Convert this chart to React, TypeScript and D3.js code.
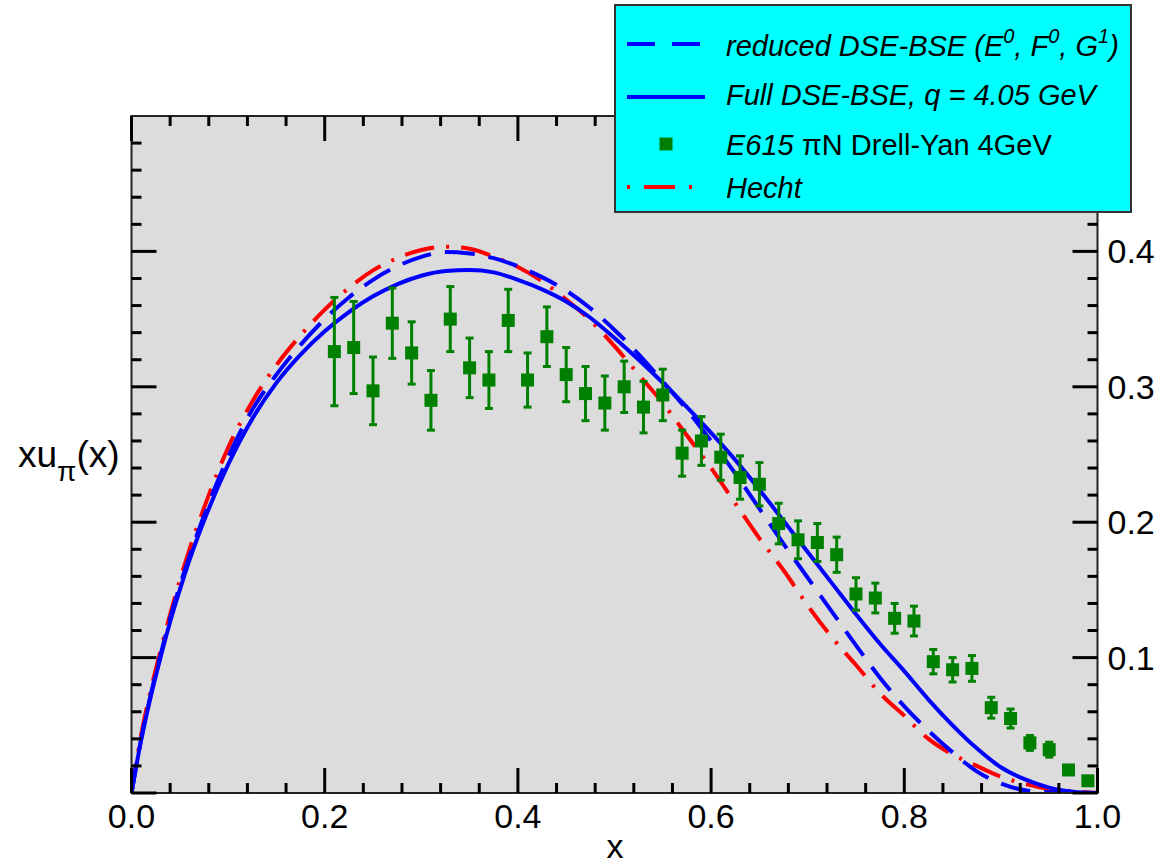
import React from "react";
import * as d3 from "d3";

// Pion valence distribution x·u_π(x): model curves and E615 Drell-Yan data

const curveX = [
  0, 0.01, 0.02, 0.03, 0.04, 0.05, 0.06, 0.08, 0.1, 0.125, 0.15, 0.175, 0.2,
  0.225, 0.25, 0.275, 0.3, 0.325, 0.35, 0.375, 0.4, 0.425, 0.45, 0.475, 0.5,
  0.525, 0.55, 0.575, 0.6, 0.625, 0.65, 0.675, 0.7, 0.725, 0.75, 0.775, 0.8,
  0.825, 0.85, 0.875, 0.9, 0.925, 0.95, 0.975, 1.0,
];

const fullDseBse = [
  0, 0.039, 0.0715, 0.1, 0.1265, 0.15, 0.172, 0.21, 0.2425, 0.2763, 0.3029,
  0.3238, 0.341, 0.3552, 0.3668, 0.3757, 0.382, 0.3855, 0.3863, 0.3845, 0.379,
  0.372, 0.363, 0.351, 0.336, 0.32, 0.303, 0.285, 0.266, 0.246, 0.224, 0.201,
  0.178, 0.155, 0.132, 0.11, 0.09, 0.069, 0.05, 0.033, 0.019, 0.01, 0.004,
  0.001, 0,
];

const reducedDseBse = [
  0, 0.04, 0.073, 0.102, 0.129, 0.153, 0.175, 0.214, 0.248, 0.283, 0.309,
  0.331, 0.35, 0.366, 0.379, 0.389, 0.396, 0.3995, 0.3985, 0.395, 0.389, 0.381,
  0.371, 0.358, 0.342, 0.324, 0.304, 0.283, 0.26, 0.236, 0.21, 0.184, 0.159,
  0.134, 0.109, 0.085, 0.064, 0.046, 0.03, 0.016, 0.007, 0.002, 0.0005, 0, 0,
];

const hecht = [
  0, 0.043, 0.076, 0.105, 0.132, 0.157, 0.18, 0.22, 0.255, 0.289, 0.316, 0.338,
  0.357, 0.373, 0.386, 0.395, 0.401, 0.4035, 0.402, 0.396, 0.3885, 0.378,
  0.3645, 0.349, 0.33, 0.309, 0.288, 0.264, 0.24, 0.214, 0.188, 0.1645, 0.1385,
  0.115, 0.0945, 0.0735, 0.057, 0.04, 0.0285, 0.02, 0.012, 0.0068, 0.003,
  0.0012, 0,
];

const e615X = [
  0.21, 0.23, 0.25, 0.27, 0.29, 0.31, 0.33, 0.35, 0.37, 0.39, 0.41, 0.43, 0.45,
  0.47, 0.49, 0.51, 0.53, 0.55, 0.57, 0.59, 0.61, 0.63, 0.65, 0.67, 0.69, 0.71,
  0.73, 0.75, 0.77, 0.79, 0.81, 0.83, 0.85, 0.87, 0.89, 0.91, 0.93, 0.95, 0.97,
  0.99,
];

const e615Y = [
  0.326, 0.329, 0.297, 0.347, 0.325, 0.29, 0.35, 0.314, 0.305, 0.349, 0.305,
  0.337, 0.309, 0.295, 0.288, 0.3, 0.285, 0.294, 0.251, 0.26, 0.248, 0.233,
  0.228, 0.199, 0.187, 0.185, 0.176, 0.147, 0.144, 0.129, 0.127, 0.097, 0.091,
  0.092, 0.063, 0.055, 0.037, 0.032, 0.017, 0.009,
];

const e615Err = [
  0.04, 0.034, 0.025, 0.026, 0.023, 0.022, 0.024, 0.022, 0.021, 0.023, 0.02,
  0.022, 0.02, 0.02, 0.02, 0.019, 0.019, 0.019, 0.017, 0.018, 0.017, 0.016,
  0.016, 0.015, 0.014, 0.014, 0.013, 0.012, 0.011, 0.011, 0.011, 0.009, 0.009,
  0.0095, 0.0077, 0.007, 0.0055, 0.0055, 0.003, 0.003,
];

const xTickValues = [0, 0.2, 0.4, 0.6, 0.8, 1.0];
const xTickLabels = ["0.0", "0.2", "0.4", "0.6", "0.8", "1.0"];
const yTickValues = [0.1, 0.2, 0.3, 0.4];
const yTickLabels = ["0.1", "0.2", "0.3", "0.4"];

const W = 1167;
const H = 864;
const left = 131.5;
const right = 1097.5;
const top = 116;
const bottom = 793;

const FONT = "'Liberation Sans', Arial, Helvetica, sans-serif";
const BLUE = "#0000ff";
const RED = "#ff0000";
const GREEN = "#008000";

export default function App() {
  const x = d3.scaleLinear().domain([0, 1]).range([left, right]);
  const y = d3.scaleLinear().domain([0, 0.5]).range([bottom, top]);

  const line = d3
    .line<number>()
    .x((_, i) => x(curveX[i]))
    .y((d) => y(d))
    .curve(d3.curveMonotoneX);

  const xMinor = d3.range(0, 1.0001, 0.04).filter(
    (v) => !xTickValues.some((t) => Math.abs(t - v) < 1e-6)
  );
  const yMinor = d3.range(0, 0.5001, 0.02).filter(
    (v) => !yTickValues.concat([0, 0.5]).some((t) => Math.abs(t - v) < 1e-6)
  );
  const yMajorAll = [0, ...yTickValues];

  const major = 25;
  const minor = 10;
  const sq = 13;
  const cap = 4;

  return (
    <svg
      width={W}
      height={H}
      style={{ position: "absolute", left: 0, top: 0, background: "#fff" }}
      fontFamily={FONT}
    >
      <defs>
        <clipPath id="plotClip">
          <rect x={left} y={top} width={right - left} height={bottom - top} />
        </clipPath>
      </defs>

      {/* plot area */}
      <rect x={left} y={top} width={right - left} height={bottom - top} fill="#dcdcdc" />

      {/* model curves */}
      <g clipPath="url(#plotClip)" fill="none" strokeWidth={4}>
        <path d={line(hecht) ?? ""} stroke={RED} strokeDasharray="30,12,3,12" />
        <path d={line(reducedDseBse) ?? ""} stroke={BLUE} strokeDasharray="30,14" />
        <path d={line(fullDseBse) ?? ""} stroke={BLUE} />
      </g>

      {/* E615 data with error bars */}
      <g stroke={GREEN} strokeWidth={3} fill={GREEN}>
        {e615X.map((xv, i) => {
          const cx = x(xv);
          const y1 = y(e615Y[i] + e615Err[i]);
          const y2 = y(e615Y[i] - e615Err[i]);
          return (
            <g key={i}>
              <line x1={cx} x2={cx} y1={y1} y2={y2} />
              <line x1={cx - cap} x2={cx + cap} y1={y1} y2={y1} />
              <line x1={cx - cap} x2={cx + cap} y1={y2} y2={y2} />
              <rect
                x={cx - sq / 2}
                y={y(e615Y[i]) - sq / 2}
                width={sq}
                height={sq}
                stroke="none"
              />
            </g>
          );
        })}
      </g>

      {/* frame */}
      <rect
        x={left}
        y={top}
        width={right - left}
        height={bottom - top}
        fill="none"
        stroke="#222"
        strokeWidth={2}
      />

      {/* ticks */}
      <g stroke="#000" strokeWidth={3}>
        {xTickValues.map((v) => (
          <g key={"xM" + v}>
            <line x1={x(v)} x2={x(v)} y1={bottom} y2={bottom - major} />
            <line x1={x(v)} x2={x(v)} y1={top} y2={top + major} />
          </g>
        ))}
        {xMinor.map((v) => (
          <g key={"xm" + v}>
            <line x1={x(v)} x2={x(v)} y1={bottom} y2={bottom - minor} />
            <line x1={x(v)} x2={x(v)} y1={top} y2={top + minor} />
          </g>
        ))}
        {yMajorAll.map((v) => (
          <g key={"yM" + v}>
            <line x1={left} x2={left + major} y1={y(v)} y2={y(v)} />
            <line x1={right} x2={right - major} y1={y(v)} y2={y(v)} />
          </g>
        ))}
        {yMinor.map((v) => (
          <g key={"ym" + v}>
            <line x1={left} x2={left + minor} y1={y(v)} y2={y(v)} />
            <line x1={right} x2={right - minor} y1={y(v)} y2={y(v)} />
          </g>
        ))}
      </g>

      {/* tick labels */}
      <g fontSize={34} fill="#000">
        {xTickValues.map((v, i) => (
          <text key={"xl" + v} x={x(v)} y={828} textAnchor="middle">
            {xTickLabels[i]}
          </text>
        ))}
        {yTickValues.map((v, i) => (
          <text key={"yl" + v} x={right + 10} y={y(v) + 12} textAnchor="start">
            {yTickLabels[i]}
          </text>
        ))}
      </g>

      {/* axis titles */}
      <text x={615} y={858} fontSize={34} textAnchor="middle">
        x
      </text>
      <text x={18} y={467} fontSize={37}>
        xu
        <tspan fontSize={28} dy={14}>
          π
        </tspan>
        <tspan dy={-14}>(x)</tspan>
      </text>

      {/* legend */}
      <g>
        <rect x={615} y={5} width={516} height={207} fill="#00ffff" stroke="#333" strokeWidth={2} />
        <line x1={627} x2={702} y1={44} y2={44} stroke={BLUE} strokeWidth={4} strokeDasharray="28,17" />
        <line x1={627} x2={705} y1={97} y2={97} stroke={BLUE} strokeWidth={4} />
        <rect x={666 - sq / 2} y={144 - sq / 2} width={sq} height={sq} fill={GREEN} />
        <line x1={627} x2={692} y1={187} y2={187} stroke={RED} strokeWidth={4} strokeDasharray="3,14,31,14,3" />
        <g fontSize={29} fill="#000">
          <text x={726} y={56} fontStyle="italic">
            reduced DSE-BSE (E
            <tspan fontSize={20} dy={-13}>0</tspan>
            <tspan dy={13}>, F</tspan>
            <tspan fontSize={20} dy={-13}>0</tspan>
            <tspan dy={13}>, G</tspan>
            <tspan fontSize={20} dy={-13}>1</tspan>
            <tspan dy={13}>)</tspan>
          </text>
          <text x={726} y={105} fontStyle="italic">
            Full DSE-BSE, q = 4.05 GeV
          </text>
          <text x={726} y={155}>
            <tspan fontStyle="italic">E615 </tspan>
            <tspan>πN Drell-Yan 4GeV</tspan>
          </text>
          <text x={726} y={198} fontStyle="italic">
            Hecht
          </text>
        </g>
      </g>
    </svg>
  );
}
